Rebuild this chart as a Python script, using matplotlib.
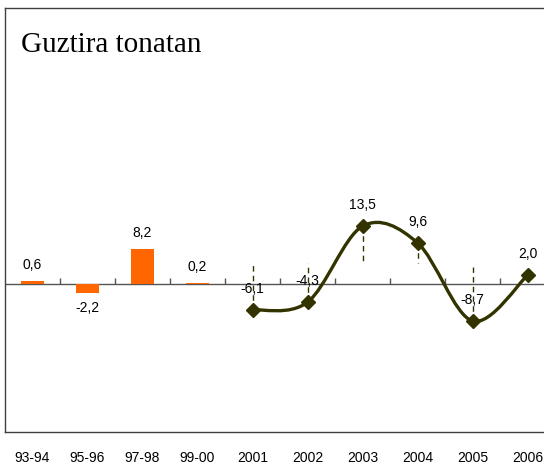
import matplotlib
matplotlib.use("Agg")
import matplotlib.pyplot as plt
from matplotlib.path import Path
from matplotlib.patches import PathPatch

# data
categories = ["93-94", "95-96", "97-98", "99-00", "2001", "2002", "2003", "2004", "2005", "2006"]
bar_values = [0.6, -2.2, 8.2, 0.2]
line_values = [-6.1, -4.3, 13.5, 9.6, -8.7, 2.0]
drop_ends = [5.2, 4.9, 4.9, 4.9, 4.0]   # dashed drop lines 2001..2005 end here

BAR_COLOR = "#FF6600"
LINE_COLOR = "#333300"

plt.rcParams.update({
    'font.family': 'Liberation Sans',
    'font.size': 10,
})

fig = plt.figure(figsize=(5.44, 4.66), dpi=100)
ax = fig.add_axes([5/544, 34/466, 550/544, 424/466])

nb = len(bar_values)
xb = list(range(nb))
xl = list(range(nb, nb + len(line_values)))

bars = ax.bar(xb, bar_values, width=0.42, color=BAR_COLOR, zorder=2)
for x, v in zip(xb, bar_values):
    off = 16 if v >= 0 else -15
    ax.annotate(f"{v:.1f}".replace(".", ","), (x, v), xytext=(0, off * 0.72),
                textcoords="offset points", ha="center", va="center", fontsize=10)

# zero axis with category boundary ticks
ax.axhline(0, color="#555555", lw=1, zorder=1)
ax.vlines([i + 0.5 for i in range(len(categories) - 1)], 0, 1.3, color="#555555", lw=1)

# dashed drop lines
ax.vlines(xl[:len(drop_ends)], line_values[:len(drop_ends)], drop_ends,
          color=LINE_COLOR, lw=1, linestyles=(0, (4, 3)), zorder=2)

# smoothed line (Catmull-Rom style bezier, like Excel smoothing)
pts = list(zip(xl, line_values))
verts = [pts[0]]
codes = [Path.MOVETO]
n = len(pts)
for i in range(n - 1):
    p0 = pts[i - 1] if i > 0 else pts[i]
    p1 = pts[i]
    p2 = pts[i + 1]
    p3 = pts[i + 2] if i + 2 < n else pts[i + 1]
    c1 = (p1[0] + (p2[0] - p0[0]) / 6, p1[1] + (p2[1] - p0[1]) / 6)
    c2 = (p2[0] - (p3[0] - p1[0]) / 6, p2[1] - (p3[1] - p1[1]) / 6)
    verts += [c1, c2, p2]
    codes += [Path.CURVE4] * 3
ax.add_patch(PathPatch(Path(verts, codes), facecolor="none", edgecolor=LINE_COLOR,
                       lw=2.4, zorder=3))
ax.plot(xl, line_values, linestyle="none", marker="D", markersize=7,
        color=LINE_COLOR, zorder=4)
for x, v in zip(xl, line_values):
    ax.annotate(f"{v:.1f}".replace(".", ","), (x, v), xytext=(0, 21 * 0.72),
                textcoords="offset points", ha="center", va="center", fontsize=10)

ax.set_xlim(-0.5, 9.5)
ax.set_ylim(-34.7, 64.6)
ax.set_yticks([])
ax.set_xticks(range(len(categories)))
ax.set_xticklabels(categories)
ax.tick_params(axis="x", length=0, pad=14)
for s in ax.spines.values():
    s.set_color("#404040")
    s.set_linewidth(1)

fig.text(21/544, 1 - 52/466, "Guztira tonatan", family="Liberation Serif",
         fontsize=21, ha="left", va="baseline")

fig.savefig("out.png", dpi=100)
